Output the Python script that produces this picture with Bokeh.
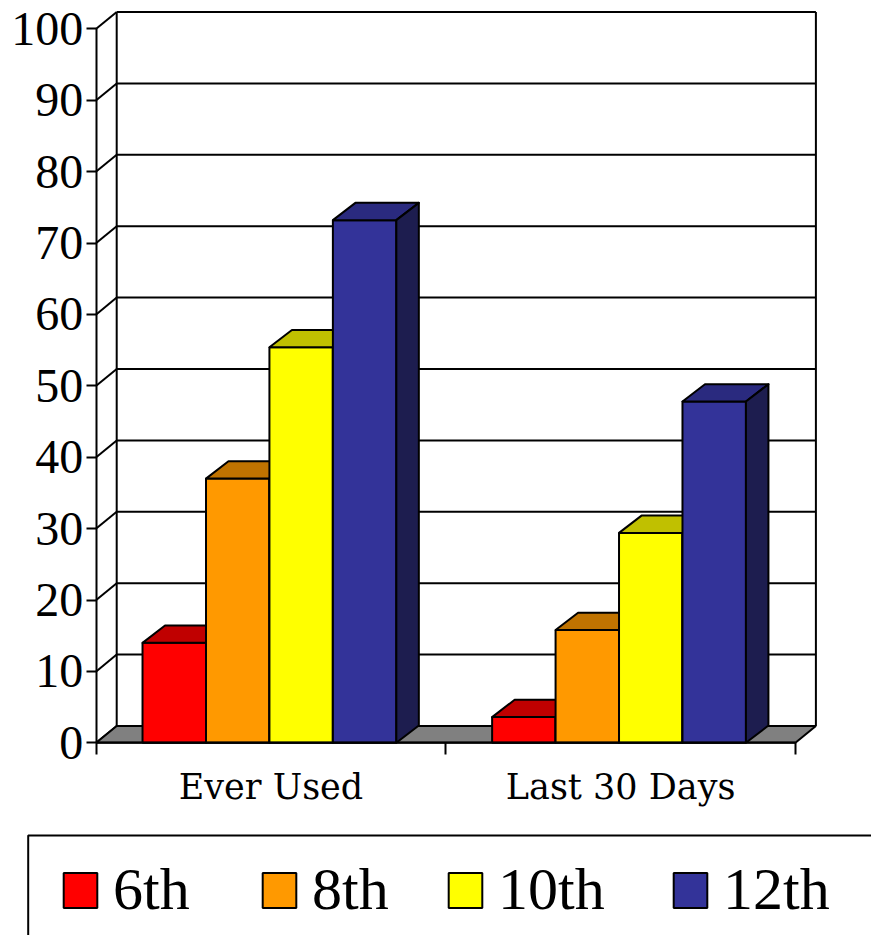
from bokeh.plotting import figure
from bokeh.models import Range1d, LinearAxis, FixedTicker, Legend, LegendItem, BoxAnnotation
from bokeh.embed import file_html
from bokeh.resources import INLINE

# ---------------- data ----------------
categories = ["Ever Used", "Last 30 Days"]
grades = ["6th", "8th", "10th", "12th"]
ever_used = [14.0, 37.0, 55.4, 73.2]
last_30_days = [3.6, 15.8, 29.4, 47.8]
y_ticks = [0, 10, 20, 30, 40, 50, 60, 70, 80, 90, 100]

# ---------------- styles ----------------
front_colors = ["#FF0000", "#FF9900", "#FFFF00", "#333399"]
top_colors = ["#C00000", "#C07300", "#C0C000", "#2A2A7F"]
side_colors = ["#800000", "#804C00", "#808000", "#1D1D4F"]
floor_color = "#808080"

# ---------------- layout (pixels) ----------------
W, H = 871, 935
X0_PX = 95.7          # canvas x of category 0 (front axis)
PX_PER_CAT = 349.6    # pixels per category slot
Y0_PX = 742.3         # canvas y (from top) of value 0
PX_PER_UNIT = 7.14    # pixels per value unit

x_start = -X0_PX / PX_PER_CAT
x_end = (W - X0_PX) / PX_PER_CAT
y_end = Y0_PX / PX_PER_UNIT
y_start = -(H - Y0_PX) / PX_PER_UNIT


def dx_px(px):
    return px / PX_PER_CAT


def dy_px(px):
    return px / PX_PER_UNIT


WALL_DX, WALL_DY = dx_px(20.5), dy_px(16.8)
BAR_DX, BAR_DY = dx_px(22.5), dy_px(17.3)
GROUP_CENTER = 0.4955
BAR_W = 0.1815

series_by_cat = [ever_used, last_30_days]
n_cat = len(categories)
ymax = y_ticks[-1]

p = figure(width=W, height=H, x_range=Range1d(x_start, x_end), y_range=Range1d(y_start, y_end),
           output_backend="svg", toolbar_location=None, min_border=0,
           x_axis_type=None, y_axis_type=None, outline_line_color=None,
           background_fill_color="white", border_fill_color="white")

# back wall gridlines
p.segment(x0=[WALL_DX] * len(y_ticks), y0=[v + WALL_DY for v in y_ticks],
          x1=[n_cat + WALL_DX] * len(y_ticks), y1=[v + WALL_DY for v in y_ticks],
          line_color="black", line_width=2)
# side wall diagonals
p.segment(x0=[0] * len(y_ticks), y0=y_ticks,
          x1=[WALL_DX] * len(y_ticks), y1=[v + WALL_DY for v in y_ticks],
          line_color="black", line_width=2)
# back wall verticals
p.segment(x0=[WALL_DX, n_cat + WALL_DX], y0=[WALL_DY, WALL_DY],
          x1=[WALL_DX, n_cat + WALL_DX], y1=[ymax + WALL_DY, ymax + WALL_DY],
          line_color="black", line_width=2)
# floor
p.patch(x=[0, n_cat, n_cat + WALL_DX, WALL_DX], y=[0, 0, WALL_DY, WALL_DY],
        fill_color=floor_color, line_color="black", line_width=2)

# bars
front_renderers = []
group_w = BAR_W * len(grades)
for k, grade in enumerate(grades):
    vals = [series_by_cat[g][k] for g in range(n_cat)]
    lefts = [g + GROUP_CENTER - group_w / 2 + k * BAR_W for g in range(n_cat)]
    rights = [l + BAR_W for l in lefts]
    r = p.quad(left=lefts, right=rights, bottom=0, top=vals,
               fill_color=front_colors[k], line_color="black", line_width=2)
    front_renderers.append(r)
    p.patches(xs=[[l, rr, rr + BAR_DX, l + BAR_DX] for l, rr in zip(lefts, rights)],
              ys=[[v, v, v + BAR_DY, v + BAR_DY] for v in vals],
              fill_color=top_colors[k], line_color="black", line_width=2, line_join="round")
    p.patches(xs=[[rr, rr + BAR_DX, rr + BAR_DX, rr] for rr in rights],
              ys=[[0, BAR_DY, v + BAR_DY, v] for v in vals],
              fill_color=side_colors[k], line_color="black", line_width=2, line_join="round")

# axes
yaxis = LinearAxis(fixed_location=0, bounds=(0, ymax),
                   ticker=FixedTicker(ticks=y_ticks, minor_ticks=[]),
                   major_tick_out=10, major_tick_in=0, minor_tick_out=0, minor_tick_in=0,
                   axis_line_width=2, major_tick_line_width=2,
                   major_label_text_font="Liberation Serif", major_label_text_font_size="48px",
                   major_label_standoff=3, major_label_text_color="black")
p.add_layout(yaxis, "left")

cat_ticks = [i + 0.5 for i in range(n_cat)]
xaxis = LinearAxis(fixed_location=0, bounds=(0, n_cat),
                   ticker=FixedTicker(ticks=cat_ticks, minor_ticks=list(range(n_cat + 1))),
                   major_label_overrides={t: c for t, c in zip(cat_ticks, categories)},
                   major_tick_out=0, major_tick_in=0, minor_tick_out=12, minor_tick_in=0,
                   minor_tick_line_width=2, axis_line_width=2,
                   major_label_text_font="DejaVu Serif", major_label_text_font_size="35px",
                   major_label_standoff=12, major_label_text_color="black")
p.add_layout(xaxis, "below")

# legend box
box_left = x_start + dx_px(27.7)
box_top = y_end - dy_px(835)
p.add_layout(BoxAnnotation(left=box_left, right=x_end + 1, top=box_top, bottom=y_start - 10,
                           fill_alpha=0, line_color="black", line_alpha=1.0, line_width=2))

# legend swatches are drawn at 80% of the glyph box, so the box is enlarged
leg_x = [59, 258, 444, 669]
leg_y = 11
for k, grade in enumerate(grades):
    lg = Legend(items=[LegendItem(label=grade, renderers=[front_renderers[k]])],
                location=(leg_x[k], leg_y), orientation="horizontal",
                glyph_width=42, glyph_height=44, label_standoff=12,
                label_text_font="Liberation Serif", label_text_font_size="60px",
                label_text_color="black",
                padding=0, margin=0, spacing=0, border_line_color=None,
                background_fill_alpha=0)
    p.add_layout(lg)

open("out.html", "w").write(file_html(p, INLINE))
